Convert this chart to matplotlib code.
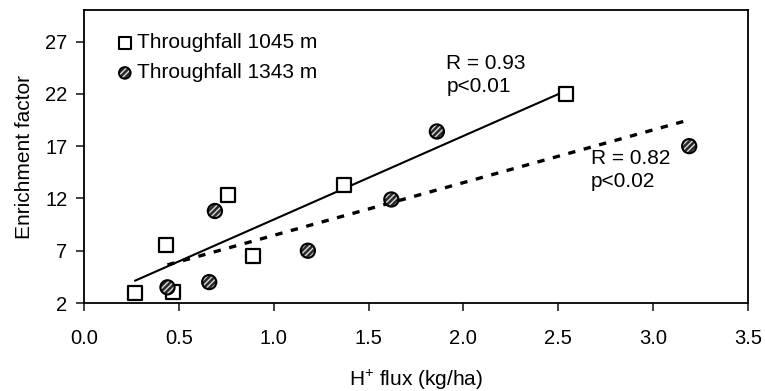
import numpy as np
import matplotlib
matplotlib.use("Agg")
import matplotlib.pyplot as plt

# Throughfall 1045 m (open squares)
x_1045 = [0.27, 0.43, 0.47, 0.76, 0.89, 1.37, 2.54]
y_1045 = [3.0, 7.5, 3.1, 12.3, 6.5, 13.3, 22.0]

# Throughfall 1343 m (hatched circles)
x_1343 = [0.44, 0.66, 0.69, 1.18, 1.62, 1.86, 3.19]
y_1343 = [3.5, 4.0, 10.8, 7.0, 11.9, 18.4, 17.0]

x_ticks = [0.0, 0.5, 1.0, 1.5, 2.0, 2.5, 3.0, 3.5]
y_ticks = [2, 7, 12, 17, 22, 27]

plt.rcParams['font.family'] = ['Liberation Sans', 'DejaVu Sans']
plt.rcParams['font.size'] = 15
plt.rcParams['mathtext.fontset'] = 'custom'
plt.rcParams['mathtext.rm'] = 'Liberation Sans'
plt.rcParams['mathtext.it'] = 'Liberation Sans'

fig = plt.figure(figsize=(7.65, 3.91), dpi=100)
ax = fig.add_axes([0.1098, 0.225, 0.868, 0.749])

# regression lines over each series' range
for xs, ys, style in [(x_1045, y_1045, dict(color='black', lw=1.5)),
                      (x_1343, y_1343, dict(color='black', lw=2.4, dashes=(2.2, 2.6)))]:
    k, b = np.polyfit(xs, ys, 1)
    xl = np.array([min(xs), max(xs)])
    ax.plot(xl, k * xl + b, **style)

ax.scatter(x_1045, y_1045, s=110, marker='s', facecolor='white', edgecolor='black',
           linewidth=1.6, zorder=3)
ax.scatter(x_1343, y_1343, s=105, marker='o', facecolor='#2a2a2a', edgecolor='#d8d8d8',
           hatch='//////', linewidth=0, zorder=3)
ax.scatter(x_1343, y_1343, s=105, marker='o', facecolor='none', edgecolor='black',
           linewidth=1.5, zorder=4)

# legend drawn as markers + text
ax.scatter([0.215], [26.9], s=85, marker='s', facecolor='white', edgecolor='black', linewidth=1.5)
ax.text(0.28, 26.9, 'Throughfall 1045 m', va='center', ha='left')
ax.scatter([0.215], [24.0], s=70, marker='o', facecolor='#2a2a2a', edgecolor='#d8d8d8',
           hatch='//////', linewidth=0)
ax.scatter([0.215], [24.0], s=70, marker='o', facecolor='none', edgecolor='black', linewidth=1.4)
ax.text(0.28, 24.0, 'Throughfall 1343 m', va='center', ha='left')

ax.text(1.91, 25.8, 'R = 0.93\np<0.01', va='top', ha='left', linespacing=1.25)
ax.text(2.67, 16.7, 'R = 0.82\np<0.02', va='top', ha='left', linespacing=1.25)

ax.set_xlim(0, 3.5)
ax.set_ylim(2, 30)
ax.set_xticks(x_ticks)
ax.set_xticklabels(['%.1f' % v for v in x_ticks])
ax.set_yticks(y_ticks)
ax.tick_params(axis='both', direction='out', length=6, width=1.2, color='#222222',
               labelsize=14.5)
ax.tick_params(axis='x', pad=13)
ax.tick_params(axis='y', pad=6)
for s in ax.spines.values():
    s.set_linewidth(1.3)

ax.set_xlabel(r'H$^{+}$ flux (kg/ha)', labelpad=14)
ax.set_ylabel('Enrichment factor', labelpad=8)

fig.savefig('out.png', dpi=100)
